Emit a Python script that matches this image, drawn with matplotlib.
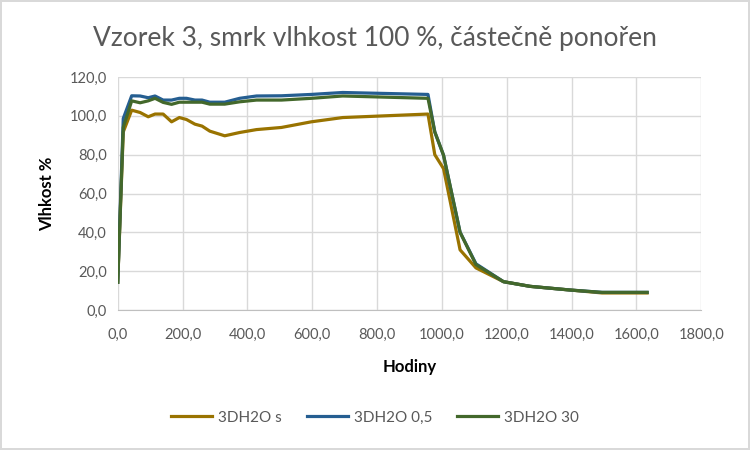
import matplotlib.pyplot as plt
from matplotlib.ticker import FuncFormatter

plt.rcParams['font.family'] = ['Lato', 'DejaVu Sans']

# hodiny (časy měření)
hodiny = [0, 17, 43, 69, 94, 115, 140, 166, 190, 212, 238, 260, 284, 330, 376,
          428, 505, 597, 694, 957, 978, 1005, 1056, 1105, 1190, 1272, 1396, 1494, 1633]

vlhkost_s = [14.3, 91.7, 102.9, 101.7, 99.5, 100.9, 100.9, 96.9, 99.1, 98.1, 95.7, 94.7, 92.1, 89.7, 91.4,
             92.9, 94.0, 96.9, 99.1, 100.9, 80.0, 72.8, 31.0, 21.7, 14.6, 12.2, 10.3, 8.8, 8.8]
vlhkost_05 = [14.3, 98.6, 110.3, 110.2, 109.3, 110.2, 108.1, 108.1, 109.0, 109.0, 108.1, 108.1, 107.0, 107.0, 109.0,
              110.2, 110.3, 111.0, 112.0, 111.0, 91.7, 79.7, 40.1, 23.8, 14.6, 12.2, 10.3, 9.1, 9.1]
vlhkost_30 = [14.3, 94.0, 107.7, 106.7, 107.7, 109.0, 106.9, 105.9, 107.0, 107.0, 107.0, 107.0, 106.0, 106.0, 107.2,
              108.1, 108.1, 109.0, 110.2, 109.0, 91.7, 79.7, 40.0, 23.4, 14.6, 12.2, 10.3, 9.1, 9.1]

fig = plt.figure(figsize=(7.5, 4.5), dpi=100, edgecolor='#d9d9d9', linewidth=1.5)
ax = fig.add_axes([0.157, 0.311, 0.778, 0.518])

ax.plot(hodiny, vlhkost_s, color='#997300', lw=2.3, label='3DH2O s')
ax.plot(hodiny, vlhkost_05, color='#255e91', lw=2.3, label='3DH2O 0,5')
ax.plot(hodiny, vlhkost_30, color='#43682b', lw=2.3, label='3DH2O 30')

ax.set_xlim(0, 1800)
ax.set_ylim(0, 120)
ax.set_xticks(range(0, 1801, 200))
ax.set_yticks(range(0, 121, 20))
fmt = FuncFormatter(lambda v, p: f'{v:.1f}'.replace('.', ','))
ax.xaxis.set_major_formatter(fmt)
ax.yaxis.set_major_formatter(fmt)

ax.grid(True, color='#d9d9d9', lw=1)
ax.set_axisbelow(True)
for s in ['top', 'right', 'left']:
    ax.spines[s].set_visible(False)
ax.spines['bottom'].set_color('#bfbfbf')
ax.tick_params(length=0, labelsize=10.5, labelcolor='#595959', pad=8)
ax.tick_params(axis='x', pad=13)

ax.set_xlabel('Hodiny', fontsize=12, fontweight='bold', labelpad=12)
ax.set_ylabel('Vlhkost %', fontsize=12, fontweight='bold', labelpad=10)
fig.text(0.5, 0.915, 'Vzorek 3, smrk vlhkost 100 %, částečně ponořen', fontsize=19,
         color='#595959', ha='center', va='center')

fig.legend(loc='center', bbox_to_anchor=(0.5, 0.072), ncol=3, frameon=False,
           fontsize=11, handlelength=2.7, handletextpad=0.4, columnspacing=1.6,
           labelcolor='#595959')

fig.savefig('out.png', dpi=100, edgecolor=fig.get_edgecolor())
